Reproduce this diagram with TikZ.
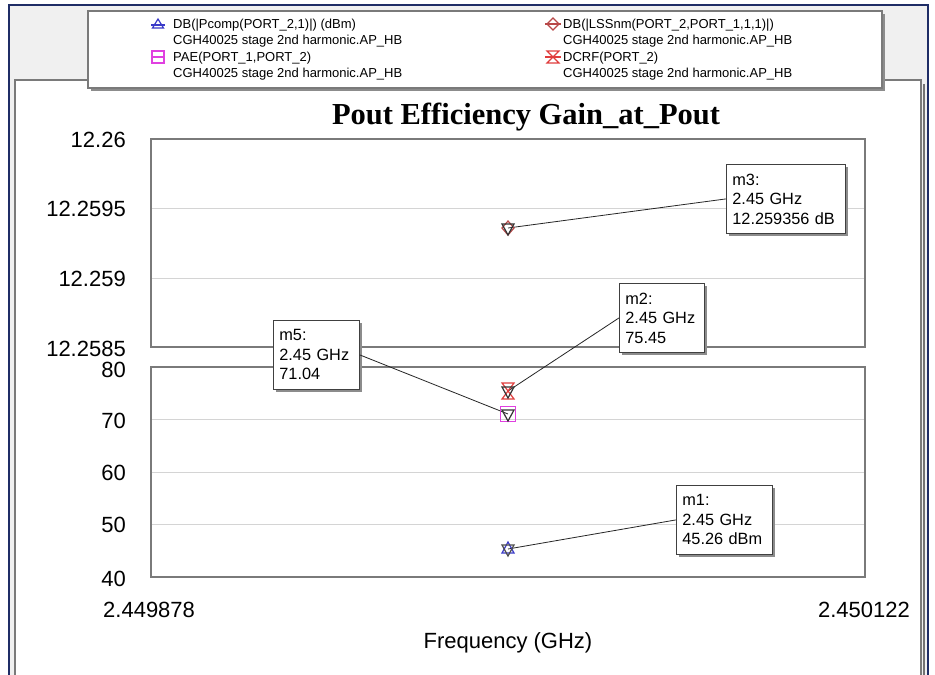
\documentclass[tikz,border=0pt]{standalone}
\usepackage{fontspec}
\setmainfont{Liberation Serif}
\newfontfamily\arial{Liberation Sans}
\usetikzlibrary{shadows}
\definecolor{navy}{HTML}{1F2D66}
\definecolor{bggray}{HTML}{F0F0F0}
\definecolor{framegray}{HTML}{7A7A7A}
\definecolor{gridgray}{HTML}{D4D4D4}
\definecolor{pblue}{HTML}{3A3AC8}
\definecolor{lssred}{HTML}{B84848}
\definecolor{paepink}{HTML}{E040E0}
\definecolor{dcred}{HTML}{E03C3C}
\begin{document}
\begin{tikzpicture}[x=1pt,y=-1pt,
  lbl/.style={font=\arial\fontsize{22}{26}\selectfont, inner sep=0pt},
  leg/.style={font=\arial\fontsize{13}{15}\selectfont, inner sep=0pt, anchor=base west},
  mbox/.style={draw=black!75, fill=white, line width=0.8pt,
    font=\arial\fontsize{16.3}{19.5}\selectfont, align=left, anchor=north west,
    inner xsep=6pt, inner ysep=4pt, minimum height=69pt,
    drop shadow={shadow xshift=3pt, shadow yshift=-3pt, fill=black!45, opacity=1}},
  plotbox/.style={draw=framegray, line width=1.1pt},
  gridl/.style={draw=gridgray, line width=0.9pt},
  conn/.style={draw=black!85, line width=0.8pt},
  symb/.style={line width=1.2pt},
  triup/.pic={\draw[symb] (0,-7) -- (6,4) -- (-6,4) -- cycle;},
  tridown/.pic={\draw[symb] (0,7) -- (6,-4) -- (-6,-4) -- cycle;},
  sqm/.pic={\draw[symb, line width=1.6pt] (-7.5,-7.5) rectangle (7.5,7.5);},
  hourg/.pic={\draw[symb] (-6,-8) -- (6,-8) -- (-6,8) -- (6,8) -- cycle;},
  diam/.pic={\draw[symb] (0,-7) -- (6,0) -- (0,7) -- (-6,0) -- cycle;},
  legtri/.pic={\draw[symb] (0,-5) -- (5.5,4) -- (-5.5,4) -- cycle; \draw[symb] (-7,1) -- (7,1);},
  legsq/.pic={\draw[symb] (-6,-6) rectangle (6,6); \draw[symb] (-7,0) -- (7,0);},
  legdiam/.pic={\draw[symb] (0,-6) -- (6,0) -- (0,6) -- (-6,0) -- cycle; \draw[symb] (-8,0) -- (8,0);},
  leghg/.pic={\draw[symb] (-6,-6) -- (6,-6) -- (-6,6) -- (6,6) -- cycle; \draw[symb] (-8,0) -- (8,0);},
]
\path[use as bounding box] (0,0) rectangle (935,675);
% outer window
\fill[bggray] (9,5) rectangle (928,675);
\draw[navy, line width=2.5pt] (9,676) -- (9,5) -- (928,5) -- (928,676);
% inner panel
\draw[black!55, line width=2pt] (924,84) -- (924,676);
\filldraw[fill=white, draw=framegray, line width=1.1pt] (15,676) -- (15,80) -- (921,80) -- (921,676);

% legend box
\node[draw=framegray, fill=white, line width=1.1pt, minimum width=794pt, minimum height=77pt,
  inner sep=0pt, drop shadow={shadow xshift=3pt, shadow yshift=-3pt, fill=black!45, opacity=1}]
  (legend) at (485,49.5) {};
\pic[pblue] at (158,24) {legtri};
\node[leg] (l1a) at (173,28.5) {DB(|Pcomp(PORT\_2,1)|) (dBm)};
\node[leg] (l1b) at (173,44.5) {CGH40025 stage 2nd harmonic.AP\_HB};
\pic[paepink] at (158,57) {legsq};
\node[leg] (l2a) at (173,61.5) {PAE(PORT\_1,PORT\_2)};
\node[leg] (l2b) at (173,77) {CGH40025 stage 2nd harmonic.AP\_HB};
\pic[lssred] at (553,24) {legdiam};
\node[leg] (l3a) at (563,28.5) {DB(|LSSnm(PORT\_2,PORT\_1,1,1)|)};
\node[leg] (l3b) at (563,44.5) {CGH40025 stage 2nd harmonic.AP\_HB};
\pic[dcred] at (553,57) {leghg};
\node[leg] (l4a) at (563,61.5) {DCRF(PORT\_2)};
\node[leg] (l4b) at (563,77) {CGH40025 stage 2nd harmonic.AP\_HB};

% title
\node[font=\bfseries\fontsize{30.5}{33}\selectfont, inner sep=0pt] (title) at (526,117) {Pout Efficiency Gain\_at\_Pout};

% upper plot
\draw[gridl] (151,208.5) -- (865,208.5);
\draw[gridl] (151,278) -- (865,278);
\draw[plotbox] (151,139) rectangle (865,347);
% lower plot
\draw[gridl] (151,419.5) -- (865,419.5);
\draw[gridl] (151,472) -- (865,472);
\draw[gridl] (151,524.5) -- (865,524.5);
\draw[plotbox] (151,367) rectangle (865,577);

% y labels
\node[lbl, anchor=east] (y1) at (126,140) {12.26};
\node[lbl, anchor=east] (y2) at (126,209) {12.2595};
\node[lbl, anchor=east] (y3) at (126,279) {12.259};
\node[lbl, anchor=east] (y4) at (126,349) {12.2585};
\node[lbl, anchor=east] (y5) at (126,370) {80};
\node[lbl, anchor=east] (y6) at (126,421) {70};
\node[lbl, anchor=east] (y7) at (126,473) {60};
\node[lbl, anchor=east] (y8) at (126,525) {50};
\node[lbl, anchor=east] (y9) at (126,579) {40};
% x labels
\node[lbl, anchor=west] (x1) at (103,610) {2.449878};
\node[lbl, anchor=east] (x2) at (910,610) {2.450122};
\node[lbl] (xl) at (508,643) {Frequency (GHz)};

% data points
\coordinate (p3) at (508,228);
\coordinate (p2) at (508,391);
\coordinate (p5) at (508,414);
\coordinate (p1) at (508,549);

% marker boxes
\node[mbox, text width=107pt] (m3) at (726,164) {m3:\\2.45 GHz\\12.259356 dB};
\node[mbox, text width=73pt] (m2) at (619,283) {m2:\\2.45 GHz\\75.45};
\node[mbox, text width=74pt] (m5) at (273,320) {m5:\\2.45 GHz\\71.04};
\node[mbox, text width=84pt] (m1) at (676,485) {m1:\\2.45 GHz\\45.26 dBm};

% connectors
\draw[conn] (p3) -- (m3.west);
\draw[conn] (p2) -- (m2.west);
\draw[conn] (p5) -- (m5.east);
\draw[conn] (p1) -- (m1.west);

% symbols
\pic[lssred] at (p3) {diam};
\pic[black!80] at (p3) {tridown};
\pic[dcred] at (p2) {hourg};
\pic[black!80] at (p2) {tridown};
\pic[paepink] at (p5) {sqm};
\pic[black!80] at (p5) {tridown};
\pic[pblue] at (p1) {triup};
\pic[black!70] at (p1) {tridown};
\end{tikzpicture}
\end{document}
